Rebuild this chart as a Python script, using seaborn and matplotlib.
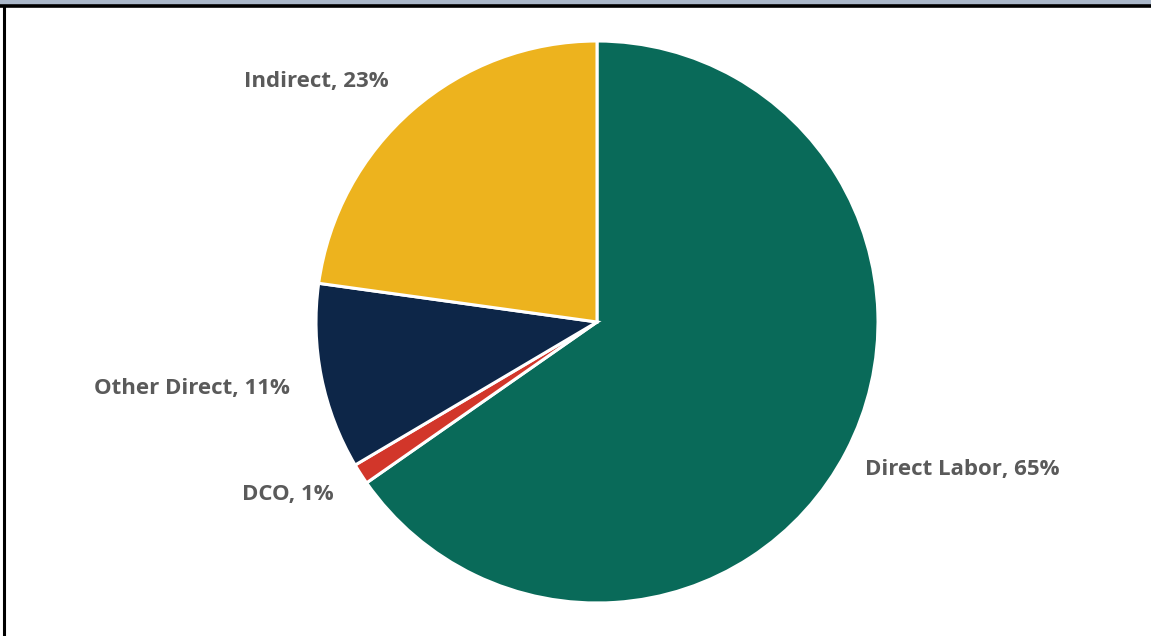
import matplotlib
matplotlib.use("Agg")
import matplotlib.pyplot as plt
from matplotlib.patches import Rectangle
from matplotlib.lines import Line2D
import seaborn as sns

sns.set_style("white")
plt.rcParams['font.family'] = ['Open Sans', 'DejaVu Sans']

categories = ["Direct Labor", "DCO", "Other Direct", "Indirect"]
values = [65.3, 1.2, 10.7, 22.8]
label_pct = [65, 1, 11, 23]
colors = ["#096A59", "#D2362A", "#0D2648", "#EDB31E"]

W, H = 1151, 636
fig = plt.figure(figsize=(W / 100, H / 100), dpi=100)
fig.patch.set_facecolor("white")

cx, cy, r = 597, 322, 281
ax = fig.add_axes([(cx - r) / W, (H - cy - r) / H, 2 * r / W, 2 * r / H])
ax.pie(values, colors=colors, startangle=90, counterclock=False,
       radius=1.0, wedgeprops=dict(edgecolor="white", linewidth=2.2))
ax.set_xlim(-1, 1)
ax.set_ylim(-1, 1)
ax.set_aspect("equal")
ax.axis("off")

# label positions (left edge of text, vertical center) in data units
label_pos = {
    "Indirect": (-1.255, 0.855),
    "Other Direct": (-1.79, -0.235),
    "DCO": (-1.262, -0.615),
    "Direct Labor": (0.955, -0.525),
}
for cat, p in zip(categories, label_pct):
    x, y = label_pos[cat]
    ax.text(x, y, f"{cat}, {p}%", ha="left", va="center", fontsize=16,
            fontweight="bold", color="#5A5A5A", clip_on=False)

# top band and borders
fig.patches.append(Rectangle((0, 1 - 5 / H), 1, 5 / H, transform=fig.transFigure,
                             facecolor="#AAB7C9", edgecolor="none", zorder=0))
fig.lines.append(Line2D([0, 1], [1 - 6 / H, 1 - 6 / H], transform=fig.transFigure,
                        color="black", linewidth=2.6))
fig.lines.append(Line2D([4 / W, 4 / W], [0, 1 - 6 / H], transform=fig.transFigure,
                        color="black", linewidth=2.2))

fig.savefig("out.png", dpi=100, facecolor="white")
